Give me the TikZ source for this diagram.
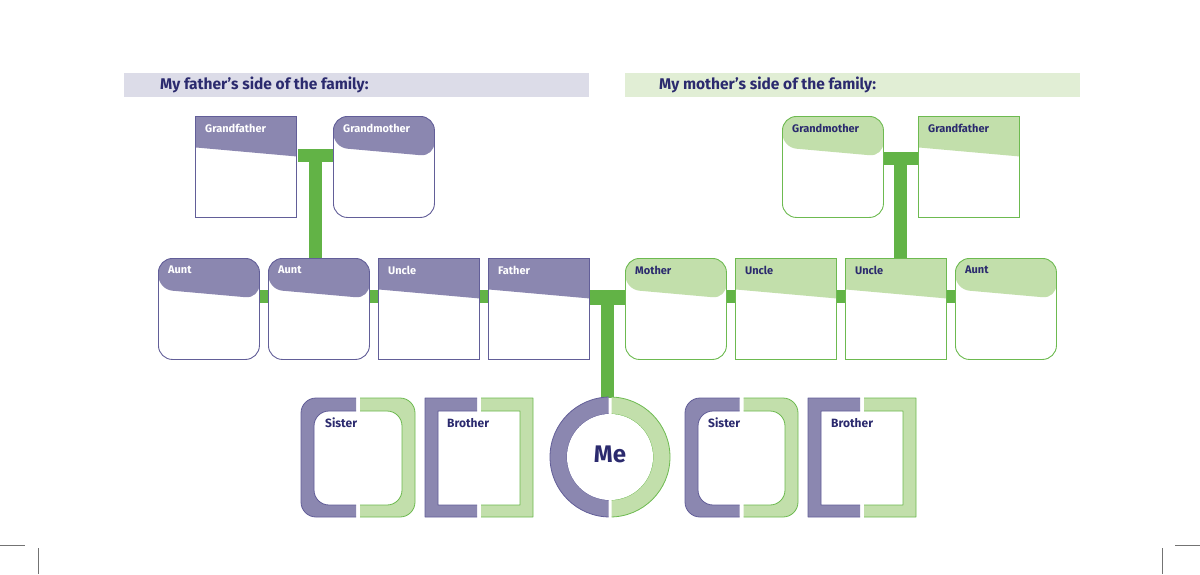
\documentclass[tikz,border=0pt]{standalone}
\usepackage{fontspec}
\setmainfont{Fira Sans}
\usetikzlibrary{calc}

\definecolor{dadfill}{HTML}{8B87B0}
\definecolor{dadline}{HTML}{625E98}
\definecolor{mumfill}{HTML}{C2DFAB}
\definecolor{mumline}{HTML}{6DBA50}
\definecolor{linkgreen}{HTML}{62B346}
\definecolor{navy}{HTML}{2B2A6E}
\definecolor{dadband}{HTML}{DCDCE8}
\definecolor{mumband}{HTML}{E1EED5}

\tikzset{
  card/.style={draw=#1, line width=0.9pt, fill=white, minimum width=101pt,
    minimum height=101pt, inner sep=0pt, anchor=north west},
  slant/.style={path picture={\fill[#1] (path picture bounding box.north west)
    -- (path picture bounding box.north east)
    -- ([yshift=-40pt]path picture bounding box.north east)
    -- ([yshift=-31pt]path picture bounding box.north west) -- cycle;}},
  dadcard/.style={card=dadline, slant=dadfill},
  mumcard/.style={card=mumline, slant=mumfill},
  soft/.style={rounded corners=14pt},
  cardtext/.style={text=#1, font=\fontsize{11}{13}\selectfont\bfseries, inner sep=0pt},
  dadlabel/.style={label={[cardtext=white, anchor=north west, xshift=10pt, yshift=-8pt]north west:#1}},
  mumlabel/.style={label={[cardtext=navy, anchor=north west, xshift=10pt, yshift=-8pt]north west:#1}},
  link/.style={draw=linkgreen, line width=13pt},
  biglink/.style={draw=linkgreen, line width=15pt},
  sibbox/.style={minimum width=#1, minimum height=119pt, inner sep=0pt, anchor=north west},
  sibtext/.style={text=navy, font=\fontsize{12}{14}\selectfont\bfseries, anchor=north west, inner sep=0pt},
  band/.style={fill=#1, minimum height=24pt, inner sep=0pt, anchor=north west},
  bandtext/.style={text=navy, font=\fontsize{15.5}{18}\selectfont\bfseries, anchor=west, inner sep=0pt},
  crop/.style={draw=black!55, line width=0.6pt}
}

% sibling frame: left half purple, right half green
\newcommand{\sibframe}[3]{%
  \pgfmathsetmacro{\xmid}{(#1+#2)/2}
  \begin{scope}
    \clip (#1-3,390) rectangle (\xmid-2,525);
    \filldraw[fill=dadfill, draw=dadline, line width=0.8pt, even odd rule, rounded corners=#3pt]
      (#1,398) rectangle (#2,517) (#1+13,411) rectangle (#2-13,505);
  \end{scope}
  \begin{scope}
    \clip (\xmid+2,390) rectangle (#2+3,525);
    \filldraw[fill=mumfill, draw=mumline, line width=0.8pt, even odd rule, rounded corners=#3pt]
      (#1,398) rectangle (#2,517) (#1+13,411) rectangle (#2-13,505);
  \end{scope}
}

\begin{document}
\begin{tikzpicture}[x=1pt, y=-1pt]
  \useasboundingbox (0,0) rectangle (1200,574);

  % Headings
  \node[band=dadband, minimum width=465pt] (dadhead) at (124,73) {};
  \node[bandtext] at (160,85) {My father’s side of the family:};
  \node[band=mumband, minimum width=455pt] (mumhead) at (625,73) {};
  \node[bandtext] at (659,85) {My mother’s side of the family:};

  % Connectors
  \coordinate (gpL) at (315,155);
  \coordinate (gpR) at (900,158);
  \coordinate (parents) at (607,297);
  \draw[link] (298,155) -- (333,155);
  \draw[link] (gpL) -- (315,258);
  \draw[link] (883,158) -- (918,158);
  \draw[link] (gpR) -- (900,258);
  \draw[link] (158,296) -- (1056,296);
  \draw[biglink] (589,297) -- (625,297);
  \draw[link] (parents) -- (607,400);
  \draw[link] (301,450) -- (916,450);

  % Father's side
  \node[dadcard, dadlabel=Grandfather] (gfL) at (195,116) {};
  \node[dadcard, soft, dadlabel=Grandmother] (gmL) at (333,116) {};
  \node[dadcard, soft, dadlabel=Aunt] (auntA) at (158,258) {};
  \node[dadcard, soft, dadlabel=Aunt] (auntB) at (268,258) {};
  \node[dadcard, dadlabel=Uncle] (uncleA) at (378,258) {};
  \node[dadcard, dadlabel=Father] (father) at (488,258) {};

  % Mother's side
  \node[mumcard, soft, mumlabel=Grandmother] (gmR) at (782,116) {};
  \node[mumcard, mumlabel=Grandfather] (gfR) at (918,116) {};
  \node[mumcard, soft, mumlabel=Mother] (mother) at (625,258) {};
  \node[mumcard, mumlabel=Uncle] (uncleB) at (735,258) {};
  \node[mumcard, mumlabel=Uncle] (uncleC) at (845,258) {};
  \node[mumcard, soft, mumlabel=Aunt] (auntC) at (955,258) {};

  % Siblings and me
  \fill[white] (301,398) rectangle (916,517);
  \sibframe{301}{415}{15}
  \sibframe{425}{533}{0.1}
  \sibframe{685}{798}{15}
  \sibframe{808}{916}{0.1}
  \begin{scope}
    \clip (540,390) rectangle (608.5,525);
    \filldraw[fill=dadfill, draw=dadline, line width=0.8pt, even odd rule]
      (610,457) circle (60) (610,457) circle (43);
  \end{scope}
  \begin{scope}
    \clip (611.5,390) rectangle (680,525);
    \filldraw[fill=mumfill, draw=mumline, line width=0.8pt, even odd rule]
      (610,457) circle (60) (610,457) circle (43);
  \end{scope}
  \fill[white] (610,457) circle (43);
  \node[sibtext] (sisA) at (325,418) {Sister};
  \node[sibtext] (broA) at (447,418) {Brother};
  \node[sibtext] (sisB) at (708,418) {Sister};
  \node[sibtext] (broB) at (831,418) {Brother};
  \node[text=navy, font=\fontsize{24}{26}\selectfont\bfseries] (me) at (610,454) {Me};

  % Crop marks
  \draw[crop] (0,545) -- (25,545);
  \draw[crop] (38,548) -- (38,574);
  \draw[crop] (1175,545) -- (1200,545);
  \draw[crop] (1162,548) -- (1162,574);
\end{tikzpicture}
\end{document}
